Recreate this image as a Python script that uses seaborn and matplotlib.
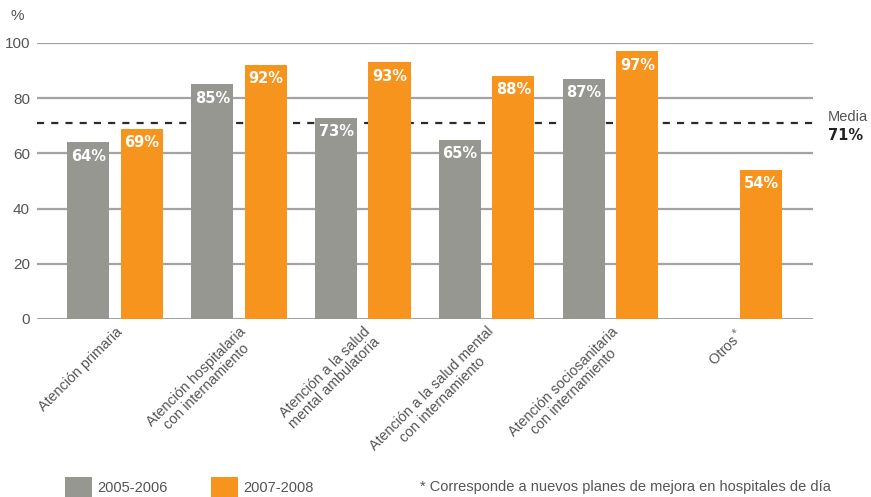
import numpy as np
import pandas as pd
import matplotlib
matplotlib.use("Agg")
import matplotlib.pyplot as plt
import seaborn as sns
from matplotlib.patches import Patch

categories = [
    "Atención primaria",
    "Atención hospitalaria\ncon internamiento",
    "Atención a la salud\nmental ambulatoria",
    "Atención a la salud mental\ncon internamiento",
    "Atención sociosanitaria\ncon internamiento",
    "Otros$^*$",
]
series_names = ["2005-2006", "2007-2008"]
values_2005 = [64, 85, 73, 65, 87, np.nan]
values_2007 = [69, 92, 93, 88, 97, 54]
mean_value = 71
yticks = [0, 20, 40, 60, 80, 100]
footnote = "* Corresponde a nuevos planes de mejora en hospitales de día"

GRAY = "#979792"
ORANGE = "#f7941d"
TEXT = "#555555"
GRID = "#a3a3a3"

df = pd.DataFrame({
    "cat": categories * 2,
    "serie": [series_names[0]] * 6 + [series_names[1]] * 6,
    "val": values_2005 + values_2007,
})

sns.set_theme(style="white")
plt.rcParams["font.family"] = ["Liberation Sans", "DejaVu Sans"]

fig = plt.figure(figsize=(8.71, 4.97), dpi=100)
ax = fig.add_axes([37 / 871, 1 - 319 / 497, (813 - 37) / 871, (319 - 43) / 497])

for y in yticks:
    ax.axhline(y, color=GRID, lw=2.2 if y == 0 else 1.6, zorder=0)

sns.barplot(data=df, x="cat", y="val", hue="serie", order=categories,
            hue_order=series_names, palette=[GRAY, ORANGE], width=0.86,
            gap=0.21, saturation=1, legend=False, ax=ax, zorder=2,
            linewidth=0, edgecolor="none")

ax.axhline(mean_value, color="#2b2b2b", lw=1.6, ls=(0, (3.2, 3.2)), zorder=1)

for cont in ax.containers:
    for bar in cont:
        h = bar.get_height()
        if np.isnan(h) or h == 0:
            continue
        ax.text(bar.get_x() + bar.get_width() / 2, h - 5.0, f"{h:.0f}%",
                ha="center", va="center", color="white", fontsize=10.5,
                fontweight="bold", family=["DejaVu Sans"], zorder=3)

ax.set_xlim(-0.63, 5.633)
ax.set_ylim(0, 100)
ax.set_yticks(yticks)
ax.set_xlabel("")
ax.set_ylabel("")
for s in ax.spines.values():
    s.set_visible(False)
ax.tick_params(axis="y", length=0, pad=5, labelsize=11, labelcolor=TEXT)
ax.tick_params(axis="x", length=0, pad=4, labelsize=10.3, labelcolor=TEXT)
plt.setp(ax.get_xticklabels(), rotation=45, ha="right", rotation_mode="anchor",
         multialignment="center", linespacing=1.05)

fig.text(10 / 871, 1 - 16 / 497, "%", color=TEXT, fontsize=11, va="center")
fig.text(828 / 871, 1 - 117 / 497, "Media", color=TEXT, fontsize=10.5, va="center")
fig.text(828 / 871, 1 - 135 / 497, f"{mean_value}%", color="#222222", fontsize=10.5,
         va="center", fontweight="bold", family=["DejaVu Sans"])

handles = [Patch(facecolor=GRAY, edgecolor="none"), Patch(facecolor=ORANGE, edgecolor="none")]
leg = fig.legend(handles, series_names, loc="center left",
                 bbox_to_anchor=(65 / 871, 1 - 487 / 497), ncol=2, frameon=False,
                 fontsize=10.5, handlelength=1.85, handleheight=1.75,
                 handletextpad=0.35, columnspacing=3.0, labelcolor=TEXT,
                 borderpad=0, borderaxespad=0)
fig.text(420 / 871, 1 - 487 / 497, footnote, color=TEXT, fontsize=10.5, va="center")

fig.savefig("out.png", dpi=100)
